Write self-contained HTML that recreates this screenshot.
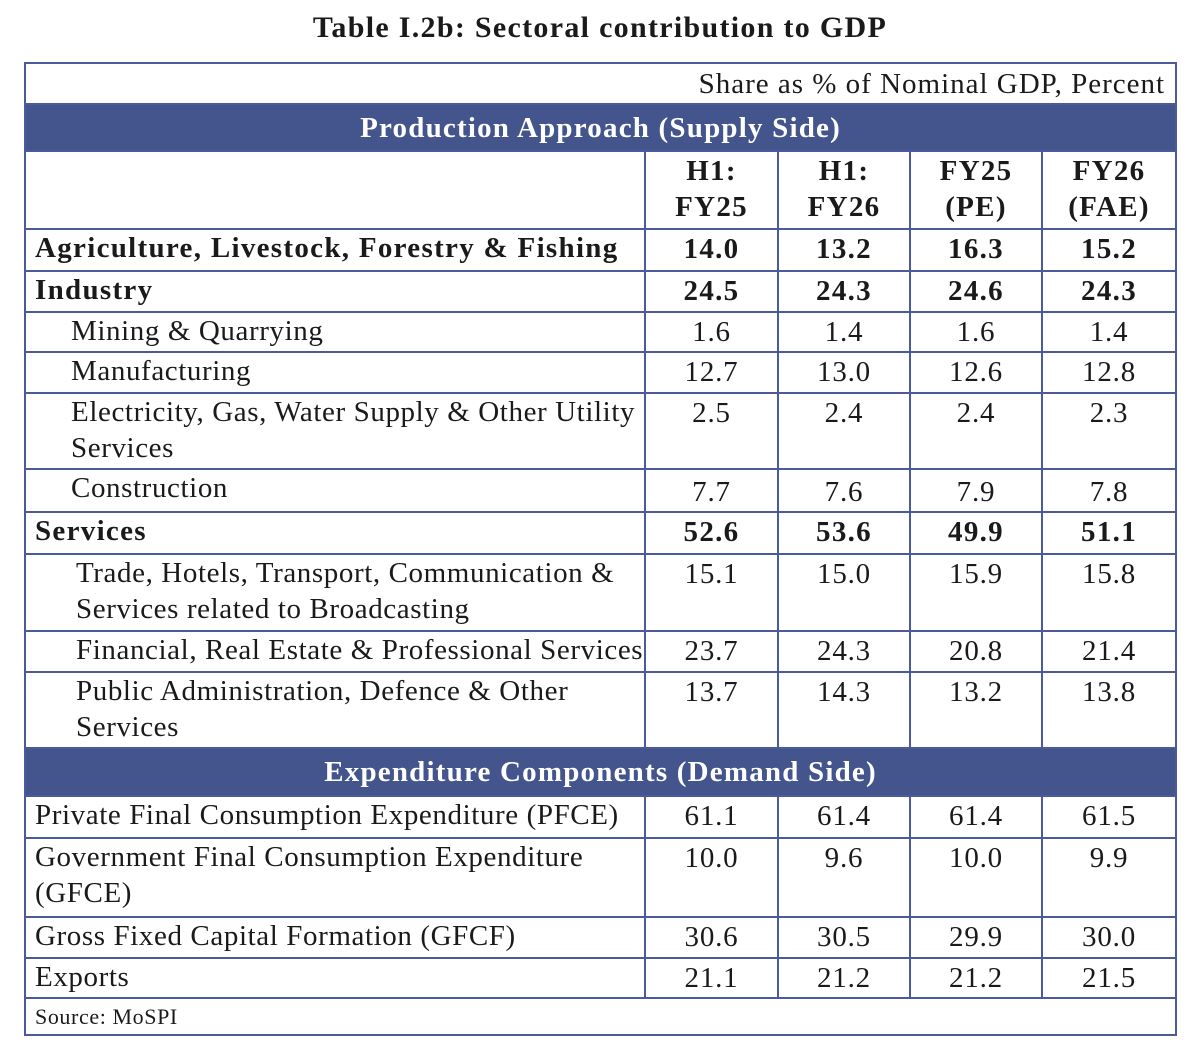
<!DOCTYPE html>
<html><head><meta charset="utf-8"><style>
body{margin:0;background:#fff;width:1200px;height:1053px;position:relative;font-family:"Liberation Serif","DejaVu Serif",serif;color:#1a1a1a;overflow:hidden;}
.title{position:absolute;top:11px;left:0;width:1200px;text-align:center;font-weight:bold;font-size:30px;letter-spacing:1.3px;}
table{position:absolute;left:24px;top:62px;border-collapse:collapse;width:1151px;table-layout:fixed;font-size:29px;letter-spacing:0.6px;}
td{border:2px solid #4a5a9a;padding:0;vertical-align:top;line-height:36px;overflow:hidden;white-space:nowrap;}
td.n{text-align:center;padding-top:1px;letter-spacing:0.8px;}
td.l{padding-left:9px;}
td.s{padding-left:45px;}
td.t{padding-left:50px;}
tr.b td{font-weight:bold;letter-spacing:1.3px;}
tr.h td{background:#44548c;color:#fff;font-weight:bold;text-align:center;vertical-align:middle;letter-spacing:1.2px;}
</style></head><body>
<div class="title">Table I.2b: Sectoral contribution to GDP</div>
<table>
<colgroup><col style="width:620px"><col style="width:133px"><col style="width:132px"><col style="width:132px"><col style="width:134px"></colgroup>
<tr style="height:41px"><td colspan="5" style="text-align:right;padding-right:10px;vertical-align:middle;border-bottom:none;letter-spacing:1px">Share as % of Nominal GDP, Percent</td></tr>
<tr class="h" style="height:47px"><td colspan="5">Production Approach (Supply Side)</td></tr>
<tr class="b" style="height:78px"><td></td><td class="n">H1:<br>FY25</td><td class="n">H1:<br>FY26</td><td class="n">FY25<br>(PE)</td><td class="n">FY26<br>(FAE)</td></tr>
<tr class="b" style="height:42px"><td class="l">Agriculture, Livestock, Forestry &amp; Fishing</td><td class="n">14.0</td><td class="n">13.2</td><td class="n">16.3</td><td class="n">15.2</td></tr>
<tr class="b" style="height:41px"><td class="l">Industry</td><td class="n">24.5</td><td class="n">24.3</td><td class="n">24.6</td><td class="n">24.3</td></tr>
<tr style="height:40px"><td class="s">Mining &amp; Quarrying</td><td class="n">1.6</td><td class="n">1.4</td><td class="n">1.6</td><td class="n">1.4</td></tr>
<tr style="height:41px"><td class="s">Manufacturing</td><td class="n">12.7</td><td class="n">13.0</td><td class="n">12.6</td><td class="n">12.8</td></tr>
<tr style="height:76px"><td class="s">Electricity, Gas, Water Supply &amp; Other Utility<br>Services</td><td class="n">2.5</td><td class="n">2.4</td><td class="n">2.4</td><td class="n">2.3</td></tr>
<tr style="height:43px"><td class="s">Construction</td><td class="n" style="padding-top:4px">7.7</td><td class="n" style="padding-top:4px">7.6</td><td class="n" style="padding-top:4px">7.9</td><td class="n" style="padding-top:4px">7.8</td></tr>
<tr class="b" style="height:42px"><td class="l">Services</td><td class="n">52.6</td><td class="n">53.6</td><td class="n">49.9</td><td class="n">51.1</td></tr>
<tr style="height:77px"><td class="t">Trade, Hotels, Transport, Communication &amp;<br>Services related to Broadcasting</td><td class="n">15.1</td><td class="n">15.0</td><td class="n">15.9</td><td class="n">15.8</td></tr>
<tr style="height:41px"><td class="t">Financial, Real Estate &amp; Professional Services</td><td class="n">23.7</td><td class="n">24.3</td><td class="n">20.8</td><td class="n">21.4</td></tr>
<tr style="height:76px"><td class="t">Public Administration, Defence &amp; Other<br>Services</td><td class="n">13.7</td><td class="n">14.3</td><td class="n">13.2</td><td class="n">13.8</td></tr>
<tr class="h" style="height:48px"><td colspan="5">Expenditure Components (Demand Side)</td></tr>
<tr style="height:42px"><td class="l">Private Final Consumption Expenditure (PFCE)</td><td class="n">61.1</td><td class="n">61.4</td><td class="n">61.4</td><td class="n">61.5</td></tr>
<tr style="height:79px"><td class="l">Government Final Consumption Expenditure<br>(GFCE)</td><td class="n">10.0</td><td class="n">9.6</td><td class="n">10.0</td><td class="n">9.9</td></tr>
<tr style="height:41px"><td class="l">Gross Fixed Capital Formation (GFCF)</td><td class="n">30.6</td><td class="n">30.5</td><td class="n">29.9</td><td class="n">30.0</td></tr>
<tr style="height:40px"><td class="l">Exports</td><td class="n">21.1</td><td class="n">21.2</td><td class="n">21.2</td><td class="n">21.5</td></tr>
<tr style="height:37px"><td colspan="5" class="l" style="font-size:22px;vertical-align:middle;letter-spacing:0.6px;line-height:30px">Source: MoSPI</td></tr>
</table>
</body></html>
